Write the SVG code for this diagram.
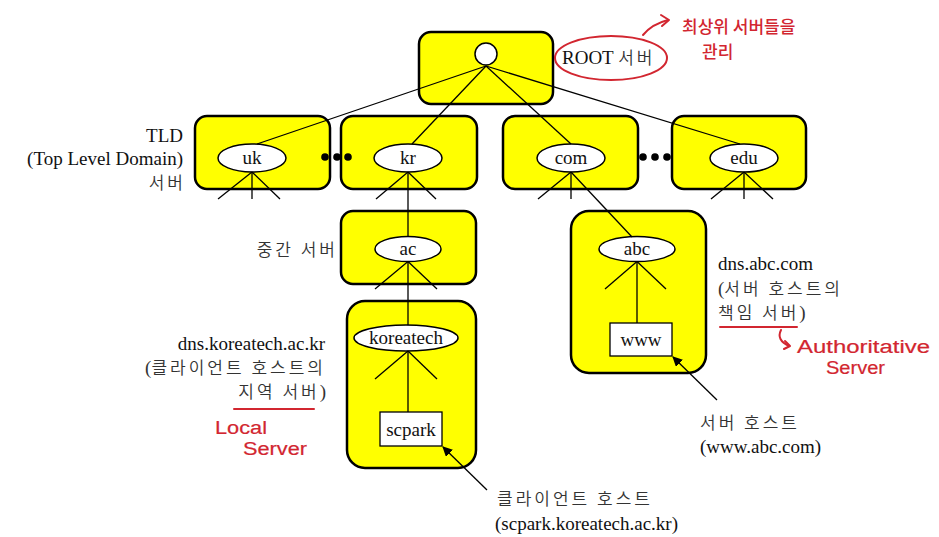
<svg xmlns="http://www.w3.org/2000/svg" width="939" height="537" viewBox="0 0 939 537">
<defs>
<style>
.box{fill:#ffff00;stroke:#000;stroke-width:2.5}
.ell{fill:#fff;stroke:#000;stroke-width:1.5}
.rect{fill:#fff;stroke:#000;stroke-width:1.3}
.ln{stroke:#000;stroke-width:1.3;fill:none}
.t{font-family:"Liberation Serif","Times New Roman",serif;font-size:19px;fill:#111}
.k{font-family:"Noto Sans CJK KR",sans-serif;font-size:17px;fill:#333;font-weight:350;letter-spacing:3px}
.p{font-family:"Liberation Serif",serif;font-size:19px;letter-spacing:0}
.r{font-family:"Noto Sans CJK KR",sans-serif;font-size:17px;fill:#d22630;font-weight:500}
.re{font-family:"Liberation Sans",sans-serif;font-size:18px;fill:#d22630;stroke:#d22630;stroke-width:0.2}
.rl{stroke:#d22630;stroke-width:2;fill:none;stroke-linecap:round;stroke-linejoin:round}
.dot{fill:#000}
</style>
<marker id="ah" viewBox="0 0 10 10" refX="9" refY="5" markerWidth="10" markerHeight="10" markerUnits="userSpaceOnUse" orient="auto">
<path d="M0,0 L10,5 L0,10 z" fill="#000"/>
</marker>
</defs>
<rect width="939" height="537" fill="#fff"/>

<g id="root">
<rect class="box" x="419" y="32" width="134" height="72" rx="12"/>
<circle cx="486" cy="54" r="11" fill="#fff" stroke="#000" stroke-width="1.5"/>
</g>

<g id="uk">
<rect class="box" x="195" y="116" width="135" height="73" rx="12"/>
<ellipse class="ell" cx="252" cy="158" rx="34" ry="14"/>
<text class="t" x="252" y="164" text-anchor="middle">uk</text>
</g>
<g id="kr">
<rect class="box" x="341" y="116" width="136" height="73" rx="12"/>
<ellipse class="ell" cx="408" cy="158" rx="34" ry="14"/>
<text class="t" x="408" y="164" text-anchor="middle">kr</text>
</g>
<g id="com">
<rect class="box" x="503" y="116" width="135" height="73" rx="12"/>
<ellipse class="ell" cx="571" cy="158" rx="34" ry="14"/>
<text class="t" x="571" y="164" text-anchor="middle">com</text>
</g>
<g id="edu">
<rect class="box" x="672" y="116" width="134" height="73" rx="12"/>
<ellipse class="ell" cx="744" cy="158" rx="34" ry="14"/>
<text class="t" x="744" y="164" text-anchor="middle">edu</text>
</g>

<g id="dots1">
<circle class="dot" cx="325" cy="157" r="3.8"/>
<circle class="dot" cx="337" cy="157" r="3.8"/>
<circle class="dot" cx="348" cy="157" r="3.8"/>
</g>
<g id="dots2">
<circle class="dot" cx="643" cy="157" r="3.8"/>
<circle class="dot" cx="655" cy="157" r="3.8"/>
<circle class="dot" cx="667" cy="157" r="3.8"/>
</g>

<g id="ac">
<rect class="box" x="341" y="211" width="135" height="73" rx="12"/>
<ellipse class="ell" cx="408" cy="249" rx="33" ry="12.5"/>
<text class="t" x="408" y="255" text-anchor="middle">ac</text>
</g>

<g id="koreatech">
<rect class="box" x="347" y="301" width="129" height="167" rx="18"/>
<ellipse class="ell" cx="406" cy="338" rx="52" ry="13"/>
<text class="t" x="406" y="344" text-anchor="middle">koreatech</text>
</g>
<g id="scpark">
<rect class="rect" x="380" y="412" width="62" height="34"/>
<text class="t" x="411" y="436" text-anchor="middle">scpark</text>
</g>

<g id="abc">
<rect class="box" x="571" y="211" width="135" height="162" rx="18"/>
<ellipse class="ell" cx="637" cy="249" rx="38" ry="12.5"/>
<text class="t" x="637" y="255" text-anchor="middle">abc</text>
</g>
<g id="www">
<rect class="rect" x="610" y="323" width="62" height="33"/>
<text class="t" x="641" y="346" text-anchor="middle">www</text>
</g>

<g id="connectors">
<line class="ln" x1="486" y1="66" x2="257" y2="144"/>
<line class="ln" x1="486" y1="66" x2="412" y2="144"/>
<line class="ln" x1="486" y1="66" x2="571" y2="144"/>
<line class="ln" x1="486" y1="66" x2="740" y2="144"/>
<line class="ln" x1="252" y1="172" x2="218" y2="199"/>
<line class="ln" x1="252" y1="172" x2="252" y2="199"/>
<line class="ln" x1="252" y1="172" x2="280" y2="199"/>
<line class="ln" x1="408" y1="172" x2="376" y2="199"/>
<line class="ln" x1="408" y1="172" x2="408" y2="236.5"/>
<line class="ln" x1="408" y1="172" x2="436" y2="199"/>
<line class="ln" x1="571" y1="172" x2="538" y2="199"/>
<line class="ln" x1="571" y1="172" x2="571" y2="199"/>
<line class="ln" x1="571" y1="172" x2="632" y2="237"/>
<line class="ln" x1="744" y1="172" x2="711" y2="199"/>
<line class="ln" x1="744" y1="172" x2="744" y2="199"/>
<line class="ln" x1="744" y1="172" x2="773" y2="199"/>
<line class="ln" x1="408" y1="261.5" x2="375" y2="289"/>
<line class="ln" x1="408" y1="261.5" x2="408" y2="325"/>
<line class="ln" x1="408" y1="261.5" x2="437" y2="289"/>
<line class="ln" x1="408" y1="351" x2="375" y2="379"/>
<line class="ln" x1="408" y1="351" x2="408" y2="412"/>
<line class="ln" x1="408" y1="351" x2="437" y2="379"/>
<line class="ln" x1="637" y1="261.5" x2="605" y2="289"/>
<line class="ln" x1="637" y1="261.5" x2="637" y2="323"/>
<line class="ln" x1="637" y1="261.5" x2="666" y2="289"/>
<line class="ln" x1="487" y1="490" x2="443" y2="447" marker-end="url(#ah)"/>
<line class="ln" x1="717" y1="400" x2="673" y2="357" marker-end="url(#ah)"/>
</g>

<g id="labels">
<text class="t" x="562" y="64" font-size="20">ROOT <tspan class="k" letter-spacing="1">서버</tspan></text>
<text class="t" x="183" y="142" text-anchor="end">TLD</text>
<text class="t" x="183" y="165" text-anchor="end">(Top Level Domain)</text>
<text class="k" x="186" y="189" text-anchor="end">서버</text>
<text class="k" x="338" y="256" text-anchor="end">중간 서버</text>
<text class="t" x="325" y="350" text-anchor="end">dns.koreatech.ac.kr</text>
<text class="k" x="326" y="374" text-anchor="end"><tspan class="p">(</tspan>클라이언트 호스트의</text>
<text class="k" x="326" y="398" text-anchor="end">지역 서버<tspan class="p">)</tspan></text>
<text class="t" x="718" y="270">dns.abc.com</text>
<text class="k" x="718" y="295"><tspan class="p">(</tspan>서버 호스트의</text>
<text class="k" x="718" y="319">책임 서버<tspan class="p">)</tspan></text>
<text class="k" x="700" y="429">서버 호스트</text>
<text class="t" x="700" y="453">(www.abc.com)</text>
<text class="k" x="497" y="505">클라이언트 호스트</text>
<text class="t" x="495" y="530">(scpark.koreatech.ac.kr)</text>
</g>

<g id="annotations">
<ellipse cx="611" cy="58" rx="56" ry="22" class="rl"/>
<path class="rl" d="M643,35 Q652,24 668,20"/>
<path class="rl" d="M661,15 L669,20 L662,26"/>
<text class="r" x="682" y="33">최상위 서버들을</text>
<text class="r" x="702" y="58">관리</text>
<line class="rl" x1="234" y1="409" x2="314" y2="409"/>
<text class="re" x="215" y="434" textLength="52" lengthAdjust="spacingAndGlyphs">Local</text>
<text class="re" x="243" y="455" textLength="64" lengthAdjust="spacingAndGlyphs">Server</text>
<line class="rl" x1="720" y1="327" x2="797" y2="327"/>
<path class="rl" d="M781,330 Q776,340 789,346"/>
<path class="rl" d="M785,341 L790,346 L784,349"/>
<text class="re" x="797" y="353" textLength="133" lengthAdjust="spacingAndGlyphs">Authoritative</text>
<text class="re" x="826" y="374" textLength="59" lengthAdjust="spacingAndGlyphs">Server</text>
</g>
</svg>
